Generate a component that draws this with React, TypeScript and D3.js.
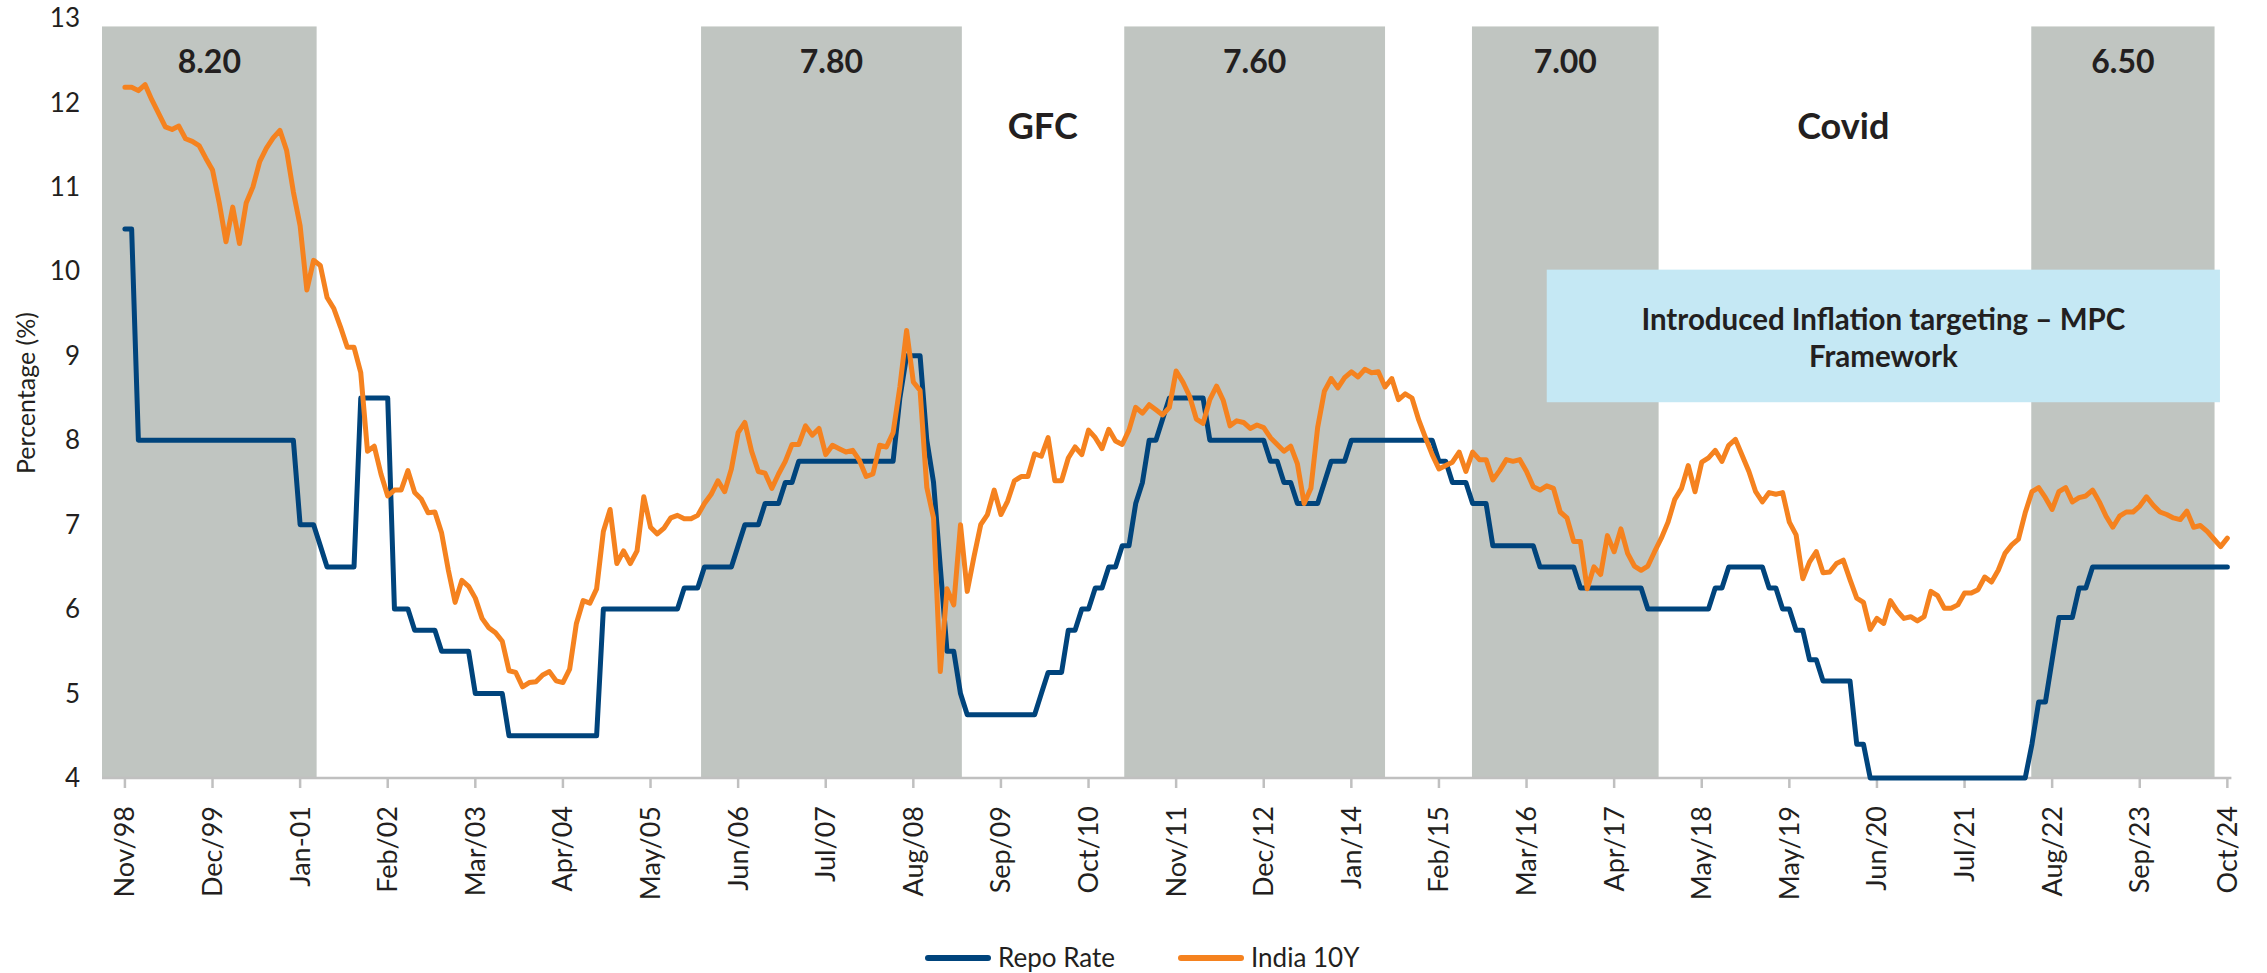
import React, { useEffect } from "react";
import * as d3 from "d3";

// ---------- DATA ----------
const tickLabels = [
  "Nov/98", "Dec/99", "Jan-01", "Feb/02", "Mar/03", "Apr/04", "May/05", "Jun/06", "Jul/07",
  "Aug/08", "Sep/09", "Oct/10", "Nov/11", "Dec/12", "Jan/14", "Feb/15", "Mar/16", "Apr/17",
  "May/18", "May/19", "Jun/20", "Jul/21", "Aug/22", "Sep/23", "Oct/24",
];
const tickEvery = 13;

const repoRate = [
  10.5, 10.5, 8, 8, 8, 8, 8, 8, 8, 8, 8, 8, 8,
  8, 8, 8, 8, 8, 8, 8, 8, 8, 8, 8, 8, 8,
  7, 7, 7, 6.75, 6.5, 6.5, 6.5, 6.5, 6.5, 8.5, 8.5, 8.5, 8.5,
  8.5, 6, 6, 6, 5.75, 5.75, 5.75, 5.75, 5.5, 5.5, 5.5, 5.5, 5.5,
  5, 5, 5, 5, 5, 4.5, 4.5, 4.5, 4.5, 4.5, 4.5, 4.5, 4.5,
  4.5, 4.5, 4.5, 4.5, 4.5, 4.5, 6, 6, 6, 6, 6, 6, 6,
  6, 6, 6, 6, 6, 6.25, 6.25, 6.25, 6.5, 6.5, 6.5, 6.5, 6.5,
  6.75, 7, 7, 7, 7.25, 7.25, 7.25, 7.5, 7.5, 7.75, 7.75, 7.75, 7.75,
  7.75, 7.75, 7.75, 7.75, 7.75, 7.75, 7.75, 7.75, 7.75, 7.75, 7.75, 8.5, 9,
  9, 9, 8, 7.5, 6.5, 5.5, 5.5, 5, 4.75, 4.75, 4.75, 4.75, 4.75,
  4.75, 4.75, 4.75, 4.75, 4.75, 4.75, 5, 5.25, 5.25, 5.25, 5.75, 5.75, 6,
  6, 6.25, 6.25, 6.5, 6.5, 6.75, 6.75, 7.25, 7.5, 8, 8, 8.25, 8.5,
  8.5, 8.5, 8.5, 8.5, 8.5, 8, 8, 8, 8, 8, 8, 8, 8,
  8, 7.75, 7.75, 7.5, 7.5, 7.25, 7.25, 7.25, 7.25, 7.5, 7.75, 7.75, 7.75,
  8, 8, 8, 8, 8, 8, 8, 8, 8, 8, 8, 8, 8,
  7.75, 7.75, 7.5, 7.5, 7.5, 7.25, 7.25, 7.25, 6.75, 6.75, 6.75, 6.75, 6.75,
  6.75, 6.75, 6.5, 6.5, 6.5, 6.5, 6.5, 6.5, 6.25, 6.25, 6.25, 6.25, 6.25,
  6.25, 6.25, 6.25, 6.25, 6.25, 6, 6, 6, 6, 6, 6, 6, 6,
  6, 6, 6.25, 6.25, 6.5, 6.5, 6.5, 6.5, 6.5, 6.5, 6.25, 6.25, 6,
  6, 5.75, 5.75, 5.4, 5.4, 5.15, 5.15, 5.15, 5.15, 5.15, 4.4, 4.4, 4,
  4, 4, 4, 4, 4, 4, 4, 4, 4, 4, 4, 4, 4,
  4, 4, 4, 4, 4, 4, 4, 4, 4, 4, 4.4, 4.9, 4.9,
  5.4, 5.9, 5.9, 5.9, 6.25, 6.25, 6.5, 6.5, 6.5, 6.5, 6.5, 6.5, 6.5,
  6.5, 6.5, 6.5, 6.5, 6.5, 6.5, 6.5, 6.5, 6.5, 6.5, 6.5, 6.5, 6.5,
  6.5,
];

const india10Y = [
  12.18, 12.18, 12.14, 12.21, 12.03, 11.87, 11.71, 11.68, 11.72, 11.57, 11.54, 11.49, 11.34,
  11.2, 10.81, 10.35, 10.76, 10.33, 10.81, 11.0, 11.3, 11.46, 11.58, 11.67, 11.43, 10.94,
  10.54, 9.78, 10.13, 10.07, 9.69, 9.56, 9.34, 9.1, 9.1, 8.8, 7.87, 7.93, 7.6,
  7.34, 7.41, 7.41, 7.64, 7.38, 7.3, 7.14, 7.15, 6.9, 6.46, 6.08, 6.34, 6.27,
  6.13, 5.89, 5.78, 5.72, 5.62, 5.27, 5.25, 5.08, 5.13, 5.14, 5.22, 5.26, 5.15,
  5.13, 5.29, 5.83, 6.1, 6.07, 6.24, 6.92, 7.18, 6.54, 6.69, 6.54, 6.69, 7.33,
  6.97, 6.89, 6.96, 7.08, 7.11, 7.07, 7.07, 7.11, 7.25, 7.36, 7.52, 7.39, 7.66,
  8.09, 8.21, 7.87, 7.63, 7.61, 7.43, 7.6, 7.75, 7.95, 7.95, 8.17, 8.06, 8.14,
  7.83, 7.94, 7.9, 7.86, 7.88, 7.76, 7.57, 7.6, 7.94, 7.92, 8.09, 8.63, 9.3,
  8.69, 8.59, 7.44, 7.08, 5.26, 6.24, 6.05, 7.0, 6.21, 6.62, 7.0, 7.12, 7.41,
  7.12, 7.28, 7.52, 7.57, 7.57, 7.84, 7.81, 8.03, 7.52, 7.52, 7.79, 7.92, 7.83,
  8.12, 8.03, 7.9, 8.13, 7.99, 7.95, 8.12, 8.39, 8.32, 8.42, 8.36, 8.3, 8.39,
  8.82, 8.69, 8.52, 8.25, 8.2, 8.48, 8.64, 8.47, 8.17, 8.23, 8.21, 8.14, 8.18,
  8.15, 8.03, 7.95, 7.87, 7.93, 7.72, 7.25, 7.43, 8.15, 8.58, 8.73, 8.62, 8.74,
  8.81, 8.75, 8.84, 8.8, 8.81, 8.63, 8.73, 8.48, 8.55, 8.5, 8.24, 8.03, 7.83,
  7.66, 7.7, 7.74, 7.86, 7.63, 7.86, 7.77, 7.77, 7.53, 7.64, 7.77, 7.75, 7.77,
  7.63, 7.45, 7.41, 7.46, 7.43, 7.15, 7.08, 6.8, 6.8, 6.24, 6.5, 6.41, 6.87,
  6.68, 6.95, 6.66, 6.51, 6.46, 6.51, 6.68, 6.84, 7.03, 7.3, 7.43, 7.7, 7.39,
  7.74, 7.79, 7.88, 7.75, 7.94, 8.01, 7.82, 7.63, 7.39, 7.27, 7.38, 7.36, 7.38,
  7.03, 6.88, 6.36, 6.56, 6.68, 6.43, 6.44, 6.54, 6.58, 6.35, 6.13, 6.08, 5.76,
  5.89, 5.83, 6.1, 5.98, 5.89, 5.91, 5.86, 5.91, 6.21, 6.16, 6.01, 6.01, 6.05,
  6.19, 6.19, 6.23, 6.38, 6.32, 6.46, 6.66, 6.76, 6.83, 7.14, 7.39, 7.44, 7.32,
  7.18, 7.39, 7.44, 7.27, 7.32, 7.34, 7.41, 7.27, 7.1, 6.97, 7.1, 7.15, 7.15,
  7.22, 7.33, 7.23, 7.15, 7.12, 7.08, 7.06, 7.16, 6.97, 6.99, 6.92, 6.83, 6.74,
  6.84,
];

// shaded periods (in month-index units) and their labels
const shadeStart = [-3.4, 85.5, 148.3, 199.9, 282.9];
const shadeEnd = [28.45, 124.2, 187.0, 227.6, 310.1];
const shadeLabels = ["8.20", "7.80", "7.60", "7.00", "6.50"];
const shadeTop = 12.9;

const eventLabels = ["GFC", "Covid"];
const eventIndex = [136.2, 255.0];

const boxLines = ["Introduced Inflation targeting \u2013 MPC", "Framework"];
const boxStart = 211.0;
const boxEnd = 310.9;
const boxTop = 10.02;
const boxBottom = 8.45;

const yTicks = [4, 5, 6, 7, 8, 9, 10, 11, 12, 13];
const seriesNames = ["Repo Rate", "India 10Y"];

// ---------- STYLE ----------
const W = 2267;
const H = 973;
const FONT = "Lato, 'Source Sans Pro', 'Open Sans', sans-serif";
const BLUE = "#00447c";
const ORANGE = "#f5821f";
const SHADE = "#c0c5c1";
const AXIS = "#c0c0c0";
const TEXT = "#231f20";

export default function App() {
  useEffect(() => {
    document.body.style.margin = "0";
  }, []);

  const x = d3.scaleLinear().domain([-3.4, 312.6]).range([102, 2231.4]);
  const y = d3.scaleLinear().domain([4, 13]).range([778, 18]);

  const line = d3
    .line<number>()
    .x((_, i) => x(i))
    .y((d) => y(d));

  const repoPath = line(repoRate) || "";
  const indiaPath = line(india10Y) || "";

  const legendItems = [
    { name: seriesNames[0], color: BLUE, x0: 928 },
    { name: seriesNames[1], color: ORANGE, x0: 1181 },
  ];

  return (
    <svg
      width={W}
      height={H}
      viewBox={`0 0 ${W} ${H}`}
      style={{ position: "absolute", left: 0, top: 0, display: "block", background: "#fff" }}
      fontFamily={FONT}
    >
      {/* shaded periods */}
      {shadeStart.map((s, i) => (
        <rect
          key={"sh" + i}
          x={x(s)}
          y={y(shadeTop)}
          width={x(shadeEnd[i]) - x(s)}
          height={y(4) - y(shadeTop)}
          fill={SHADE}
        />
      ))}

      {/* x axis line */}
      <line x1={x(-3.4)} x2={x(312.6)} y1={y(4)} y2={y(4)} stroke={AXIS} strokeWidth={2.5} />
      {tickLabels.map((t, i) => {
        const xi = x(i * tickEvery);
        return (
          <g key={"xt" + i}>
            <line x1={xi} x2={xi} y1={y(4)} y2={y(4) + 10} stroke={AXIS} strokeWidth={2.5} />
            <text
              transform={`translate(${xi},${806}) rotate(-90)`}
              textAnchor="end"
              dy="0.35em"
              fontSize={27}
              fill={TEXT}
            >
              {t}
            </text>
          </g>
        );
      })}

      {/* y axis labels */}
      {yTicks.map((v) => (
        <text key={"yt" + v} x={80} y={y(v)} dy="0.35em" textAnchor="end" fontSize={26} fill={TEXT}>
          {v}
        </text>
      ))}
      <text
        transform={`translate(${35},${393}) rotate(-90)`}
        textAnchor="middle"
        fontSize={25}
        fill={TEXT}
      >
        Percentage (%)
      </text>

      {/* lines */}
      <path d={repoPath} fill="none" stroke={BLUE} strokeWidth={5} strokeLinejoin="round" strokeLinecap="round" />
      <path d={indiaPath} fill="none" stroke={ORANGE} strokeWidth={5} strokeLinejoin="round" strokeLinecap="round" />

      {/* shade labels */}
      {shadeLabels.map((l, i) => (
        <text
          key={"sl" + i}
          x={(x(shadeStart[i]) + x(shadeEnd[i])) / 2}
          y={73}
          textAnchor="middle"
          fontSize={32}
          fontWeight={700}
          fill={TEXT}
        >
          {l}
        </text>
      ))}
      {eventLabels.map((l, i) => (
        <text
          key={"ev" + i}
          x={x(eventIndex[i])}
          y={139}
          textAnchor="middle"
          fontSize={36}
          fontWeight={700}
          fill={TEXT}
        >
          {l}
        </text>
      ))}

      {/* annotation box */}
      <rect
        x={x(boxStart)}
        y={y(boxTop)}
        width={x(boxEnd) - x(boxStart)}
        height={y(boxBottom) - y(boxTop)}
        fill="#c5e8f4"
      />
      {boxLines.map((l, i) => (
        <text
          key={"bl" + i}
          x={(x(boxStart) + x(boxEnd)) / 2}
          y={330 + i * 37}
          textAnchor="middle"
          fontSize={29.5}
          fontWeight={700}
          fill={TEXT}
        >
          {l}
        </text>
      ))}

      {/* legend */}
      {legendItems.map((it, i) => (
        <g key={"lg" + i}>
          <line x1={it.x0} x2={it.x0 + 60} y1={958} y2={958} stroke={it.color} strokeWidth={6} strokeLinecap="round" />
          <text x={it.x0 + 70} y={958} dy="0.35em" fontSize={26} fill={TEXT}>
            {it.name}
          </text>
        </g>
      ))}
    </svg>
  );
}
